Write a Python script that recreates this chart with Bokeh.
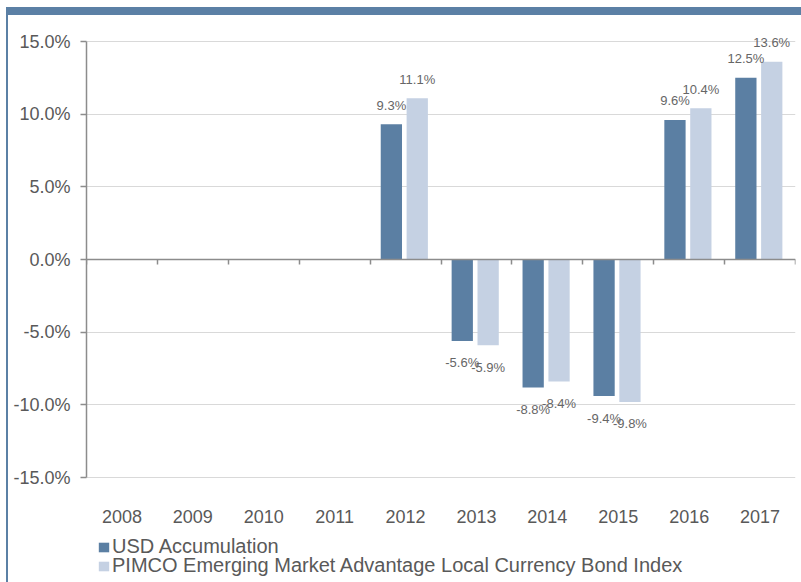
from bokeh.plotting import figure
from bokeh.models import (ColumnDataSource, Range1d, LinearAxis, FixedTicker, Spacer, Grid,
                          PrintfTickFormatter, Legend, LegendItem, Div, CustomJSTickFormatter)
from bokeh.layouts import row, column
from bokeh.embed import file_html
from bokeh.resources import INLINE
from bokeh.core.properties import value

# ---- data ----
years = ["2008", "2009", "2010", "2011", "2012", "2013", "2014", "2015", "2016", "2017"]
bar_years = ["2012", "2013", "2014", "2015", "2016", "2017"]
usd_accumulation = [9.3, -5.6, -8.8, -9.4, 9.6, 12.5]
index_returns = [11.1, -5.9, -8.4, -9.8, 10.4, 13.6]
y_ticks = [-15, -10, -5, 0, 5, 10, 15]
series_names = ["USD Accumulation",
                "PIMCO Emerging Market Advantage Local Currency Bond Index"]

DARK = "#5b7fa3"
LIGHT = "#c5d1e3"
BAND = "#5b80a5"
AXIS = "#8c8c8c"
TEXT = "#595959"
FONT = "Liberation Sans"
OFF_A, OFF_B, BAR_W = -0.2, 0.165, 0.3

# ---- layout (pixels) ----
PAGE_W, PAGE_H = 801, 582
PAD_TOP, PAD_LEFT, BAND_H, LINE_W = 7, 6, 8, 2
FIG_X, FIG_Y = PAD_LEFT + LINE_W, PAD_TOP + BAND_H
FIG_W, FIG_H = PAGE_W - FIG_X, PAGE_H - FIG_Y
AX_LEFT, AX_RIGHT, AX_TOP, AX_BOTTOM = 86, 795, 41, 477
PX_PER_PCT = (AX_BOTTOM - AX_TOP) / 30.0
y_lo, y_hi = min(y_ticks), max(y_ticks)
frame_top_value = y_hi + (AX_TOP - FIG_Y) / PX_PER_PCT
frame_bottom_value = y_hi - (PAGE_H - AX_TOP) / PX_PER_PCT

def lbl(v):
    return f"{v:.1f}%"

slot = [years.index(y) + 0.5 for y in bar_years]
src = ColumnDataSource(dict(
    xa=[s + OFF_A for s in slot],
    xb=[s + OFF_B for s in slot],
    usd=usd_accumulation,
    idx=index_returns,
    usd_lbl=[lbl(v) for v in usd_accumulation],
    idx_lbl=[lbl(v) for v in index_returns],
    usd_off=[-19 if v >= 0 else 22 for v in usd_accumulation],
    idx_off=[-19 if v >= 0 else 22 for v in index_returns],
))

p = figure(x_range=Range1d(0, len(years)),
           y_range=Range1d(frame_bottom_value, frame_top_value),
           width=FIG_W, height=FIG_H, output_backend="svg", toolbar_location=None,
           x_axis_location=None, min_border=0)
p.min_border_left = AX_LEFT - FIG_X
p.min_border_right = PAGE_W - AX_RIGHT
p.min_border_top = 0
p.min_border_bottom = 0
p.outline_line_color = None
p.background_fill_color = "white"
p.border_fill_color = "white"

r1 = p.vbar(x="xa", top="usd", bottom=0, width=BAR_W,
            fill_color=DARK, line_color=None, source=src)
r2 = p.vbar(x="xb", top="idx", bottom=0, width=BAR_W,
            fill_color=LIGHT, line_color=None, source=src)

p.text(x="xa", y="usd", text="usd_lbl", y_offset="usd_off",
       text_align="center", text_baseline="middle", text_font=value(FONT),
       text_font_size="13px", text_color="#666666", source=src)
p.text(x="xb", y="idx", text="idx_lbl", y_offset="idx_off",
       text_align="center", text_baseline="middle", text_font=value(FONT),
       text_font_size="13px", text_color="#666666", source=src)

# y axis
ya = p.yaxis[0]
ya.bounds = (y_lo, y_hi)
ya.ticker = FixedTicker(ticks=y_ticks)
ya.formatter = PrintfTickFormatter(format="%.1f%%")
ya.major_tick_out = 6
ya.major_tick_in = 0
ya.minor_tick_out = 0
ya.minor_tick_in = 0
ya.axis_line_color = AXIS
ya.axis_line_width = 1.5
ya.major_tick_line_color = AXIS
ya.major_tick_line_width = 1.5
ya.major_label_text_font = FONT
ya.major_label_text_font_size = "18px"
ya.major_label_text_color = TEXT
ya.major_label_standoff = 10

# grids: horizontal only
for g in p.center:
    if isinstance(g, Grid):
        if g.dimension == 0:
            g.grid_line_color = None
            g.visible = False
        else:
            g.ticker = FixedTicker(ticks=y_ticks)
            g.grid_line_color = "#d9d9d9"

# year labels, placed under the -15% line
year_axis = LinearAxis(fixed_location=y_lo,
                       ticker=FixedTicker(ticks=[i + 0.5 for i in range(len(years))]),
                       formatter=CustomJSTickFormatter(args=dict(labels=years),
                                                       code="return labels[Math.floor(tick)];"),
                       axis_line_color=None, major_tick_line_color=None,
                       minor_tick_line_color=None, major_tick_out=0, major_tick_in=0,
                       minor_tick_out=0, minor_tick_in=0, major_label_standoff=32,
                       major_label_text_font=FONT, major_label_text_font_size="18px",
                       major_label_text_color=TEXT)
p.add_layout(year_axis, "below")

# zero axis with ticks at category boundaries
zero_axis = LinearAxis(fixed_location=0,
                       ticker=FixedTicker(ticks=list(range(len(years) + 1))),
                       formatter=CustomJSTickFormatter(code="return '';"),
                       axis_line_color=AXIS, axis_line_width=1.5,
                       major_tick_line_color=AXIS, major_tick_line_width=1.5,
                       major_tick_out=5, major_tick_in=0,
                       minor_tick_out=0, minor_tick_in=0)
p.add_layout(zero_axis, "below")

legend_style = dict(orientation="vertical",
                    label_text_font=FONT, label_text_font_size="20px",
                    label_text_color=TEXT, glyph_width=13, glyph_height=12,
                    label_standoff=2, spacing=0, padding=0, margin=0,
                    label_height=18, border_line_color=None, background_fill_alpha=0)
legend1 = Legend(items=[LegendItem(label=series_names[0], renderers=[r1])],
                 location=(11, 24), **legend_style)
legend2 = Legend(items=[LegendItem(label=series_names[1], renderers=[r2])],
                 location=(11, 5), **legend_style)
p.add_layout(legend1)
p.add_layout(legend2)

band = Div(text="", width=PAGE_W - PAD_LEFT, height=BAND_H, margin=0,
           styles={"background-color": BAND})
left_line = Div(text="", width=LINE_W, height=FIG_H, margin=0,
                styles={"background-color": BAND})
inner = column(Spacer(width=PAGE_W - PAD_LEFT, height=PAD_TOP, margin=0), band,
               row(left_line, p, spacing=0), spacing=0)
layout = row(Spacer(width=PAD_LEFT, height=PAGE_H, margin=0), inner, spacing=0)

open("out.html", "w").write(file_html(layout, INLINE))
